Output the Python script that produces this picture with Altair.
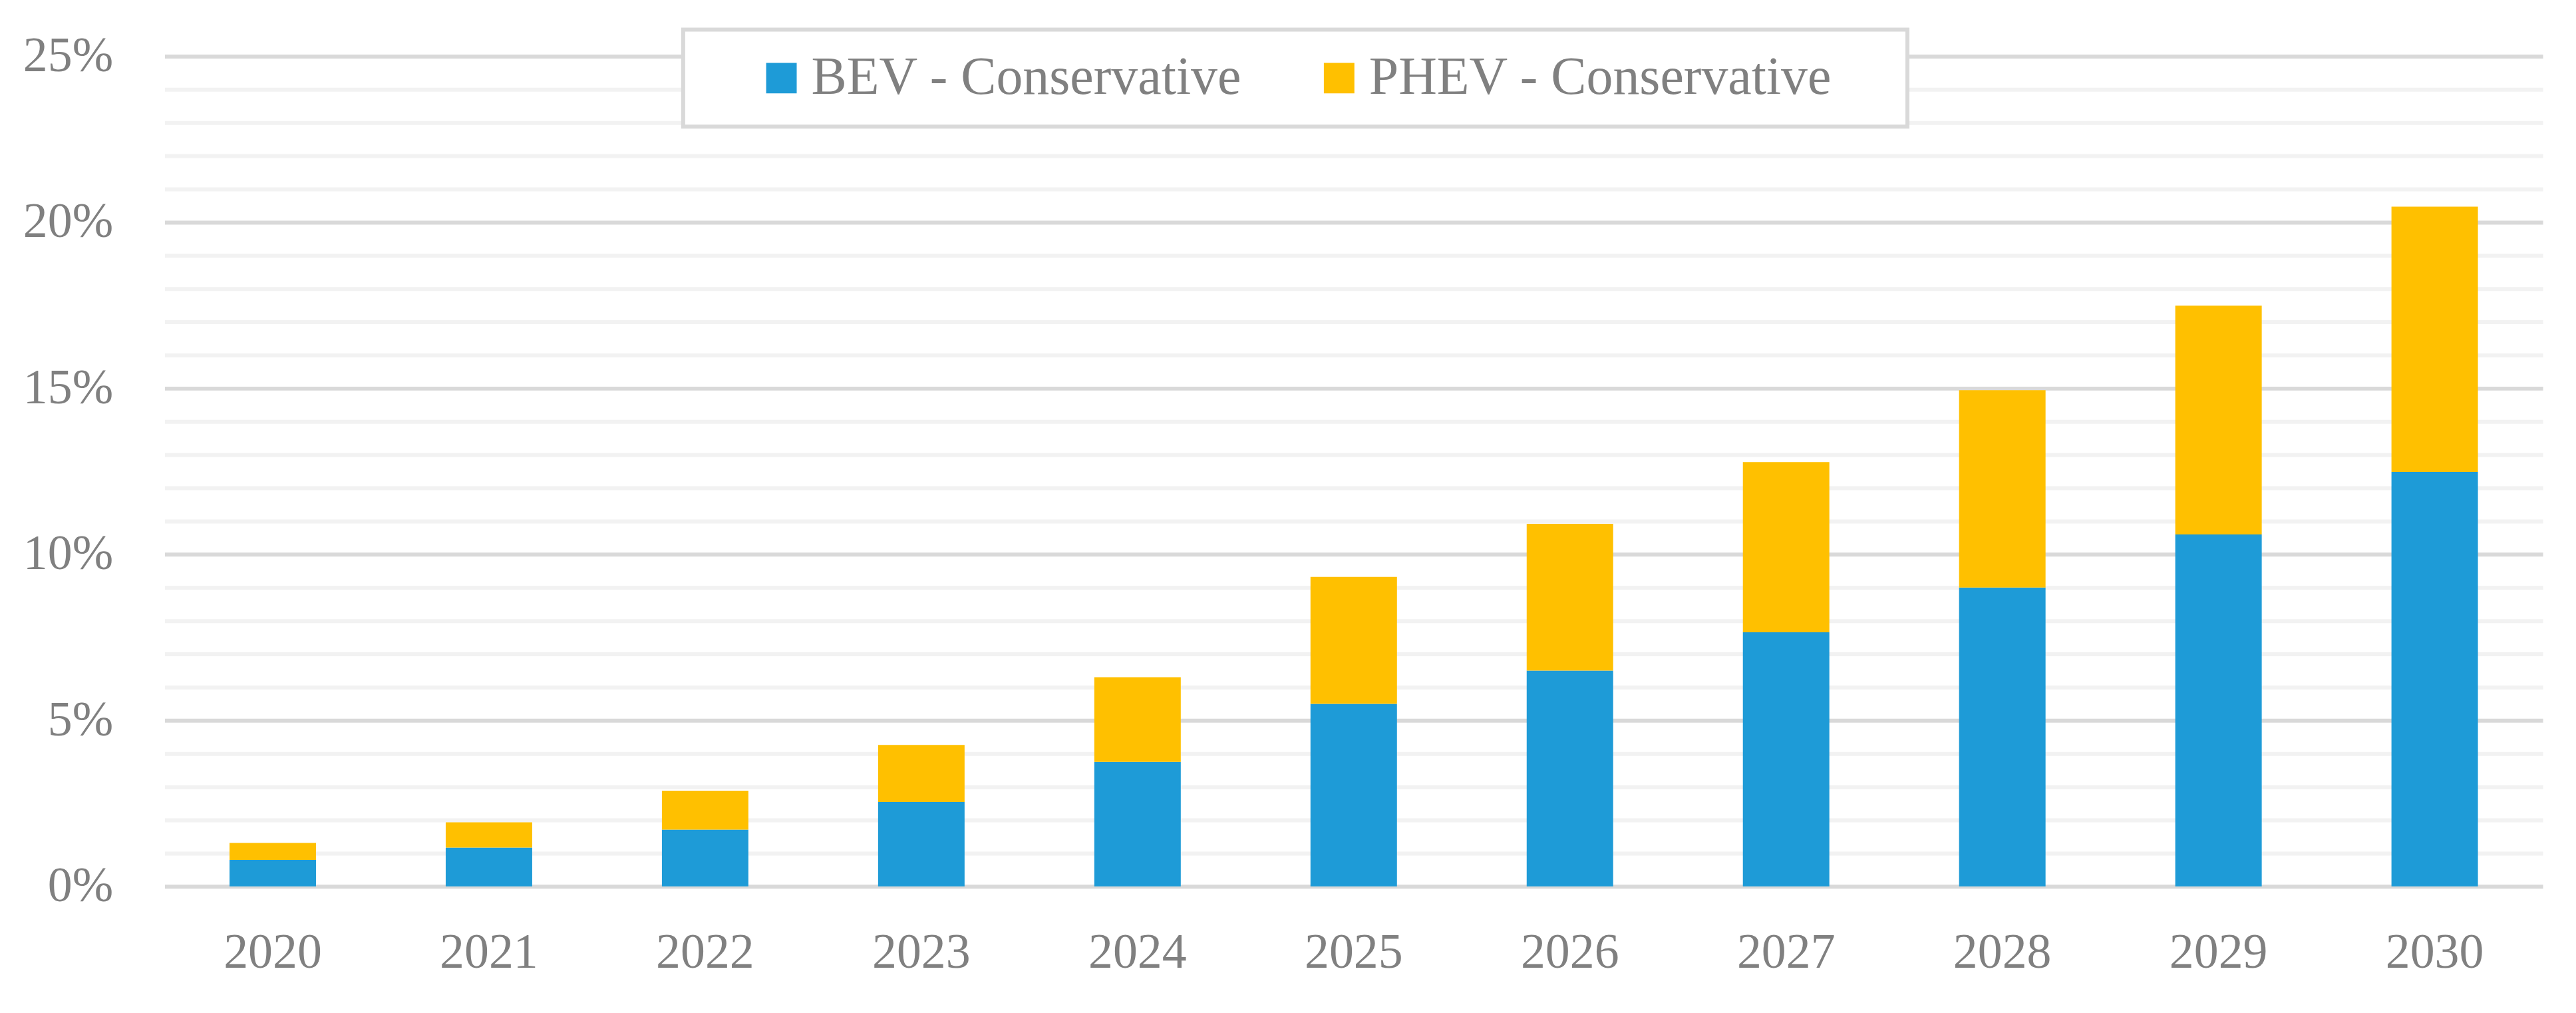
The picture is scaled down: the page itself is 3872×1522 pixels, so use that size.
import altair as alt
import pandas as pd

# ---- data (percent of sales) ----
years = ["2020", "2021", "2022", "2023", "2024", "2025", "2026", "2027", "2028", "2029", "2030"]
bev_pct = [0.80, 1.17, 1.71, 2.54, 3.75, 5.50, 6.50, 7.65, 9.00, 10.60, 12.48]
phev_pct = [0.51, 0.76, 1.17, 1.72, 2.55, 3.82, 4.42, 5.13, 5.94, 6.89, 7.99]
series = ["BEV - Conservative", "PHEV - Conservative"]
colors = ["#1E9BD7", "#FFC000"]
y_values = [i / 100 for i in range(0, 26)]

rows = []
for i, yr in enumerate(years):
    rows.append({"year": yr, "series": series[0], "share": bev_pct[i] / 100, "ord": 0})
    rows.append({"year": yr, "series": series[1], "share": phev_pct[i] / 100, "ord": 1})
df = pd.DataFrame(rows)

FONT = "Liberation Serif"
GRAY = "#808080"
major_test = "round(datum.value * 100) % 5 === 0"
nb = "\u00a0"
zw = "\u200b"

chart = alt.Chart(df).mark_bar().encode(
    x=alt.X(
        "year:N",
        sort=years,
        scale=alt.Scale(paddingInner=0.6, paddingOuter=0.3),
        axis=alt.Axis(
            title=None, labelAngle=0, ticks=False, domain=False, grid=False,
            labelPadding=64, labelFontSize=74, labelColor=GRAY, labelFont=FONT,
            labelOverlap=False,
        ),
    ),
    y=alt.Y(
        "share:Q",
        stack="zero",
        scale=alt.Scale(domain=[0, 0.25], nice=False),
        axis=alt.Axis(
            title=None, values=y_values, ticks=False, domain=False,
            labelExpr=f"{major_test} ? format(datum.value, '.0%') : ''",
            labelOverlap=False, labelPadding=78, labelFontSize=74,
            labelColor=GRAY, labelFont=FONT,
            grid=True, gridWidth=6,
            gridColor={"condition": {"test": major_test, "value": "#D9D9D9"}, "value": "#F2F2F2"},
        ),
    ),
    color=alt.Color(
        "series:N",
        scale=alt.Scale(domain=series, range=colors),
        legend=alt.Legend(
            title=nb, titleOrient="left", titleFontSize=2, titlePadding=75,
            orient="none", legendX=781, legendY=-40, direction="horizontal",
            columnPadding=106, labelOffset=5,
            symbolType="square", symbolSize=2116, symbolStrokeWidth=0, symbolOpacity=1,
            labelFontSize=80, labelColor=GRAY, labelFont=FONT, labelLimit=3000,
            labelExpr=f"datum.label + (datum.label === 'PHEV - Conservative' ? '{nb*4}{zw}' : '')",
            padding=33, fillColor="white", strokeColor="#D9D9D9",
        ),
    ),
    order=alt.Order("ord:Q"),
).properties(
    width=3582,
    height=1250,
    autosize=alt.AutoSizeParams(type="none"),
    padding={"left": 240, "top": 75, "right": 42, "bottom": 189},
    background="white",
).configure_view(stroke=None).configure_legend(strokeWidth=6)

chart.save("out.html", embed_options={"renderer": "svg", "actions": False})
